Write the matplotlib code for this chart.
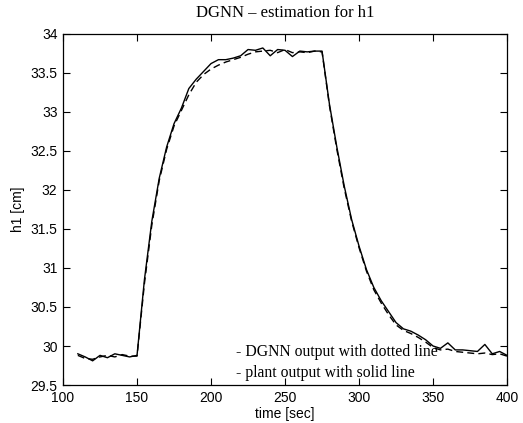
import numpy as np
import matplotlib
matplotlib.use("Agg")
import matplotlib.pyplot as plt

plt.rcParams["font.family"] = ["Liberation Sans", "DejaVu Sans"]

# time axis (sec), sampled every 5 s
time = list(range(110, 405, 5))

# plant output (solid)
plant = [29.90, 29.86, 29.81, 29.88, 29.85, 29.90, 29.88, 29.86, 29.88,
         30.85, 31.60, 32.15, 32.55, 32.85, 33.05, 33.30, 33.42, 33.52, 33.62,
         33.67, 33.67, 33.69, 33.72, 33.80, 33.79, 33.82, 33.72, 33.80, 33.79,
         33.71, 33.78, 33.77, 33.78, 33.78,
         33.10, 32.55, 32.05, 31.62, 31.28, 30.98, 30.75, 30.58, 30.44, 30.30,
         30.22, 30.19, 30.14, 30.08, 30.00, 29.97, 30.04, 29.95, 29.95, 29.94,
         29.93, 30.02, 29.90, 29.93, 29.88]

# DGNN estimate (dashed)
dgnn = [29.88, 29.84, 29.83, 29.86, 29.88, 29.86, 29.89, 29.87, 29.87,
        30.80, 31.55, 32.12, 32.52, 32.82, 33.02, 33.22, 33.38, 33.48, 33.55,
        33.60, 33.64, 33.67, 33.70, 33.74, 33.77, 33.78, 33.79, 33.76, 33.80,
        33.76, 33.77, 33.76, 33.78, 33.77,
        33.08, 32.52, 32.02, 31.60, 31.26, 30.96, 30.72, 30.55, 30.40, 30.27,
        30.20, 30.16, 30.11, 30.05, 29.98, 29.95, 29.96, 29.93, 29.92, 29.91,
        29.90, 29.91, 29.89, 29.90, 29.87]

fig = plt.figure(figsize=(5.23, 4.23), dpi=100)
ax = fig.add_axes([0.1205, 0.0898, 0.849, 0.83])

ax.plot(time, plant, color="black", lw=1.0)
ax.plot(time, dgnn, color="black", lw=1.0, dashes=(5, 3))

ax.set_xlim(100, 400)
ax.set_ylim(29.5, 34)
ax.set_xticks(range(100, 401, 50))
ax.set_yticks(np.arange(29.5, 34.01, 0.5))
ax.set_yticklabels(["29.5", "30", "30.5", "31", "31.5", "32", "32.5", "33", "33.5", "34"])

serif = "Liberation Serif"
ax.tick_params(direction="in", top=True, right=True, length=5, width=0.8,
               labelsize=10, pad=4)
for sp in ax.spines.values():
    sp.set_linewidth(0.9)

ax.set_xlabel("time [sec]", fontsize=10, labelpad=2)
ax.set_ylabel("h1 [cm]", fontsize=10, labelpad=4)
ax.set_title("DGNN \u2013 estimation for h1", fontfamily=serif, fontsize=12, pad=12)

ax.text(0.39, 0.094, "- DGNN output with dotted line", transform=ax.transAxes,
        fontfamily=serif, fontsize=11.3, va="center")
ax.text(0.39, 0.034, "- plant output with solid line", transform=ax.transAxes,
        fontfamily=serif, fontsize=11.3, va="center")

fig.savefig("out.png", dpi=100)
